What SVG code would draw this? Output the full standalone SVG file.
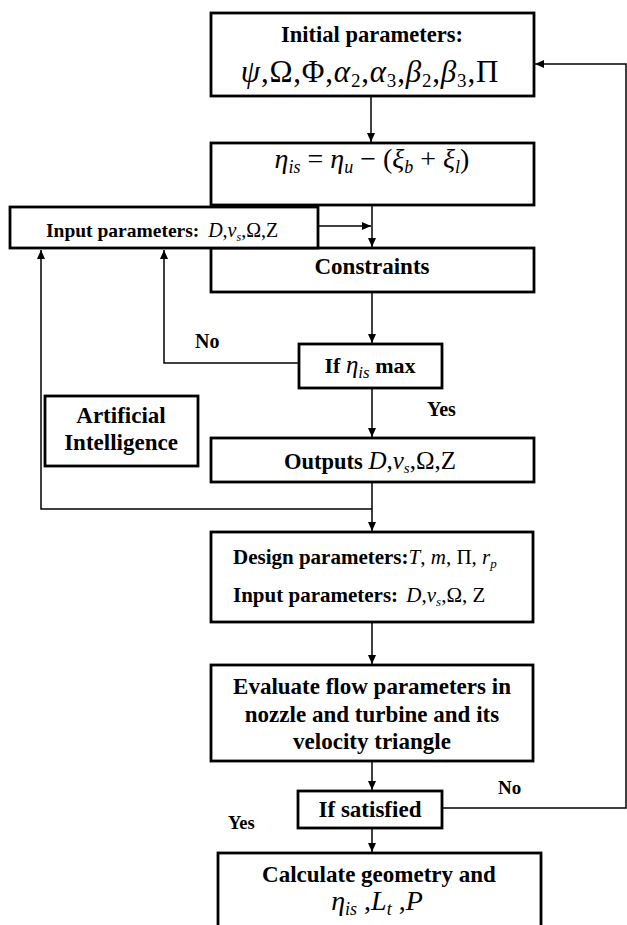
<svg xmlns="http://www.w3.org/2000/svg" width="627" height="925" viewBox="0 0 627 925">
<style>
.box{fill:#fff;stroke:#000;stroke-width:2.8}
.c{fill:none;stroke:#000;stroke-width:1.5}
.t{font-family:"Liberation Serif","Times New Roman",serif;font-weight:bold;fill:#000}
.m{font-family:"Liberation Serif","Times New Roman",serif;font-weight:normal;fill:#000}
.i{font-style:italic}
</style>
<defs>
<marker id="ah" markerUnits="userSpaceOnUse" markerWidth="10" markerHeight="8" refX="9" refY="4" orient="auto">
<path d="M0,0 L9,4 L0,8 Z" fill="#000"/>
</marker>
</defs>
<rect width="627" height="925" fill="#fff"/>
<g id="connectors">
<line class="c" x1="371" y1="96" x2="371" y2="142" marker-end="url(#ah)"/>
<line class="c" x1="372" y1="205" x2="372" y2="247" marker-end="url(#ah)"/>
<line class="c" x1="318" y1="226" x2="371" y2="226" marker-end="url(#ah)"/>
<line class="c" x1="372" y1="292" x2="372" y2="343" marker-end="url(#ah)"/>
<polyline class="c" points="299,363 164,363 164,250" marker-end="url(#ah)"/>
<line class="c" x1="372" y1="388" x2="372" y2="437" marker-end="url(#ah)"/>
<line class="c" x1="372" y1="482" x2="372" y2="531" marker-end="url(#ah)"/>
<polyline class="c" points="372,509 41,509 41,250" marker-end="url(#ah)"/>
<line class="c" x1="372" y1="622" x2="372" y2="664" marker-end="url(#ah)"/>
<line class="c" x1="372" y1="761" x2="372" y2="790" marker-end="url(#ah)"/>
<line class="c" x1="372" y1="828" x2="372" y2="852" marker-end="url(#ah)"/>
<polyline class="c" points="442,808 626,808 626,64 535,64" marker-end="url(#ah)"/>
</g>
<g id="initial">
<rect class="box" x="211" y="13" width="323" height="83"/>
<text class="t" x="372" y="42" font-size="22.5" text-anchor="middle">Initial parameters:</text>
<text class="m" x="370" y="82" font-size="31" letter-spacing="0.8" text-anchor="middle"><tspan class="i">ψ</tspan>,Ω,Φ,<tspan class="i">α</tspan><tspan font-size="19" dy="5">2</tspan><tspan dy="-5">,</tspan><tspan class="i">α</tspan><tspan font-size="19" dy="5">3</tspan><tspan dy="-5">,</tspan><tspan class="i">β</tspan><tspan font-size="19" dy="5">2</tspan><tspan dy="-5">,</tspan><tspan class="i">β</tspan><tspan font-size="19" dy="5">3</tspan><tspan dy="-5">,Π</tspan></text>
</g>
<g id="efficiency">
<rect class="box" x="211" y="143" width="323" height="62"/>
<text class="m" x="372" y="168" font-size="28" text-anchor="middle"><tspan class="i">η</tspan><tspan class="i" font-size="18" dy="5">is</tspan><tspan dy="-5"> = </tspan><tspan class="i">η</tspan><tspan class="i" font-size="18" dy="5">u</tspan><tspan dy="-5"> − (</tspan><tspan class="i">ξ</tspan><tspan class="i" font-size="18" dy="5">b</tspan><tspan dy="-5"> + </tspan><tspan class="i">ξ</tspan><tspan class="i" font-size="18" dy="5">l</tspan><tspan dy="-5">)</tspan></text>
</g>
<g id="constraints">
<rect class="box" x="211" y="248" width="323" height="44"/>
<text class="t" x="372" y="274" font-size="23" text-anchor="middle">Constraints</text>
</g>
<g id="input">
<rect class="box" x="10" y="207" width="308" height="41"/>
<text x="46" y="237"><tspan class="t" font-size="19.5">Input parameters: </tspan><tspan class="m i" font-size="20" dx="4">D</tspan><tspan class="m" font-size="20">,</tspan><tspan class="m i" font-size="20">v</tspan><tspan class="m i" font-size="12" dy="4">s</tspan><tspan class="m" font-size="20" dy="-4">,Ω,Z</tspan></text>
</g>
<g id="ifmax">
<rect class="box" x="299" y="344" width="143" height="44"/>
<text x="370" y="373" text-anchor="middle"><tspan class="t" font-size="22">If </tspan><tspan class="m i" font-size="25">η</tspan><tspan class="m i" font-size="17" dy="5">is</tspan><tspan class="t" font-size="22" dy="-5"> max</tspan></text>
</g>
<g id="ai">
<rect class="box" x="45" y="396" width="153" height="70"/>
<text class="t" x="121" y="423" font-size="23" text-anchor="middle">Artificial</text>
<text class="t" x="121" y="450" font-size="23" text-anchor="middle">Intelligence</text>
</g>
<g id="outputs">
<rect class="box" x="211" y="438" width="323" height="44"/>
<text x="370" y="469" text-anchor="middle"><tspan class="t" font-size="22.5">Outputs </tspan><tspan class="m i" font-size="25">D</tspan><tspan class="m" font-size="25">,</tspan><tspan class="m i" font-size="25">v</tspan><tspan class="m i" font-size="15" dy="4">s</tspan><tspan class="m" font-size="25" dy="-4">,Ω,Z</tspan></text>
</g>
<g id="design">
<rect class="box" x="211" y="532" width="322" height="90"/>
<text x="233" y="564"><tspan class="t" font-size="21">Design parameters:</tspan><tspan class="m i" font-size="21">T</tspan><tspan class="m" font-size="21">, </tspan><tspan class="m i" font-size="21">m</tspan><tspan class="m" font-size="21">, Π, </tspan><tspan class="m i" font-size="21">r</tspan><tspan class="m i" font-size="13" dy="4">p</tspan></text>
<text x="233" y="602"><tspan class="t" font-size="21">Input parameters: </tspan><tspan class="m i" font-size="21" dx="3">D</tspan><tspan class="m" font-size="21">,</tspan><tspan class="m i" font-size="21">v</tspan><tspan class="m i" font-size="13" dy="4">s</tspan><tspan class="m" font-size="21" dy="-4">,Ω, Z</tspan></text>
</g>
<g id="evaluate">
<rect class="box" x="211" y="665" width="322" height="96"/>
<text class="t" x="372" y="694" font-size="23" text-anchor="middle">Evaluate flow parameters in</text>
<text class="t" x="372" y="722" font-size="23" text-anchor="middle">nozzle and turbine and its</text>
<text class="t" x="372" y="749" font-size="23" text-anchor="middle">velocity triangle</text>
</g>
<g id="ifsat">
<rect class="box" x="298" y="791" width="144" height="37"/>
<text class="t" x="370" y="817" font-size="23" text-anchor="middle">If satisfied</text>
</g>
<g id="calculate">
<rect class="box" x="218" y="853" width="323" height="80"/>
<text class="t" x="379" y="882" font-size="23" text-anchor="middle">Calculate geometry and</text>
<text x="377" y="910" text-anchor="middle"><tspan class="m i" font-size="28">η</tspan><tspan class="m i" font-size="18" dy="5">is</tspan><tspan class="m" font-size="28" dy="-5"> ,</tspan><tspan class="m i" font-size="28">L</tspan><tspan class="m i" font-size="18" dy="5">t</tspan><tspan class="m" font-size="28" dy="-5"> ,</tspan><tspan class="m i" font-size="28">P</tspan></text>
</g>
<g id="labels">
<text class="t" x="195" y="348" font-size="20">No</text>
<text class="t" x="427" y="416" font-size="20">Yes</text>
<text class="t" x="498" y="794" font-size="19">No</text>
<text class="t" x="228" y="829" font-size="18.5">Yes</text>
</g>
</svg>
